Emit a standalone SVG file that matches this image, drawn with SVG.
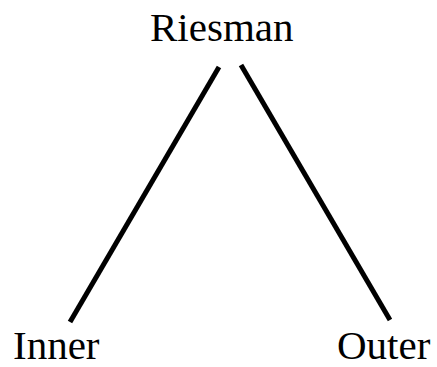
<svg xmlns="http://www.w3.org/2000/svg" width="437" height="367" viewBox="0 0 437 367">
<style>
text{font-family:"Liberation Serif","Times New Roman",serif;font-size:41px;fill:#000}
.c{stroke:#000;stroke-width:5;fill:none}
</style>
<rect width="437" height="367" fill="#fff"/>
<g id="connectors">
<line class="c" x1="219" y1="67" x2="70" y2="322"/>
<line class="c" x1="241" y1="65" x2="390" y2="320"/>
</g>
<g id="riesman"><text x="150" y="41">Riesman</text></g>
<g id="inner"><text x="13" y="359">Inner</text></g>
<g id="outer"><text x="337" y="359">Outer</text></g>
</svg>
